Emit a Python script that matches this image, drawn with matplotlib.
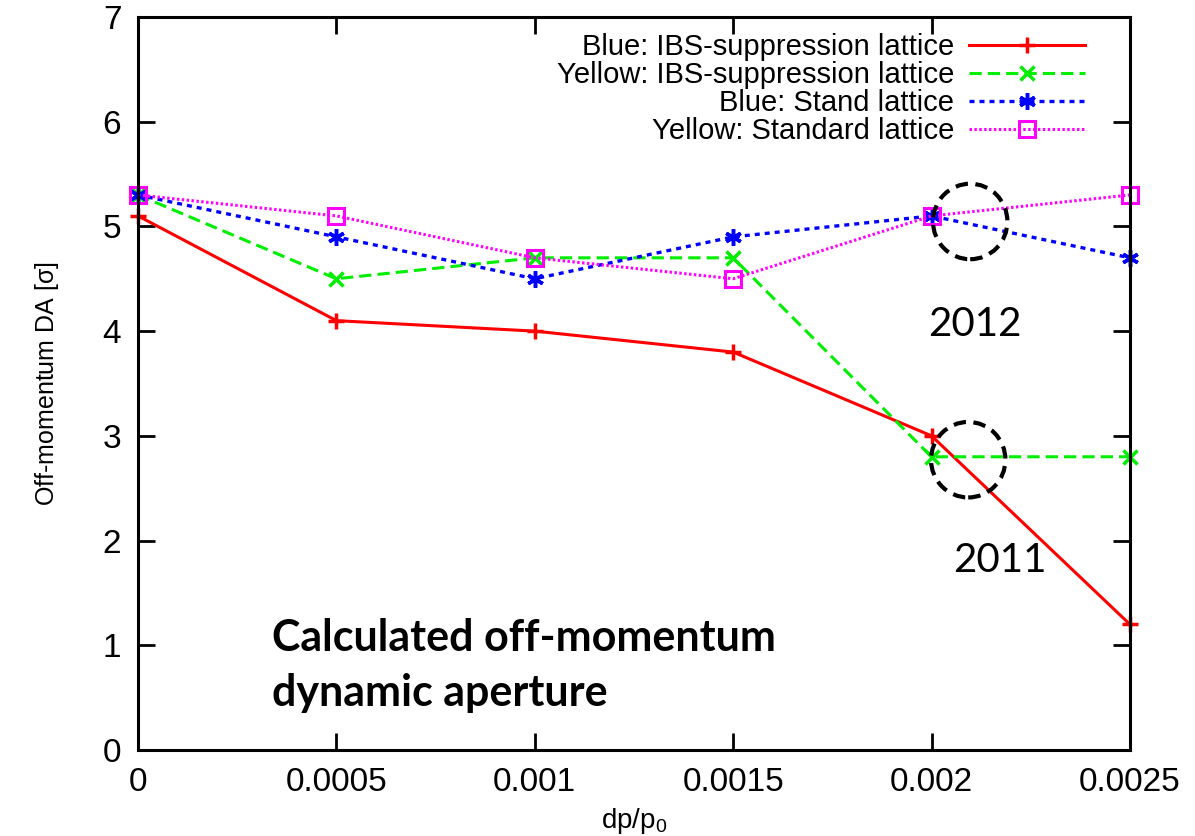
#Off-momentum dynamic aperture vs dp/p0 for the IBS-suppression and standard lattices
import matplotlib
matplotlib.use("Agg")
import matplotlib.pyplot as plt
from matplotlib.patches import Ellipse

plt.rcParams['font.family'] = ['Liberation Sans', 'DejaVu Sans']
plt.rcParams['mathtext.default'] = 'regular'

dpp = [0, 0.0005, 0.001, 0.0015, 0.002, 0.0025]
blue_ibs = [5.1, 4.1, 4.0, 3.8, 3.0, 1.2]
yellow_ibs = [5.3, 4.5, 4.7, 4.7, 2.8, 2.8]
blue_std = [5.3, 4.9, 4.5, 4.9, 5.1, 4.7]
yellow_std = [5.3, 5.1, 4.7, 4.5, 5.1, 5.3]

labels = ["Blue: IBS-suppression lattice", "Yellow: IBS-suppression lattice",
          "Blue: Stand lattice", "Yellow: Standard lattice"]
xticks = [0, 0.0005, 0.001, 0.0015, 0.002, 0.0025]
xticklabels = ["0", "0.0005", "0.001", "0.0015", "0.002", "0.0025"]


fig = plt.figure(figsize=(11.95, 8.36), dpi=100)
ax = fig.add_axes([0.1155, 0.1029, 0.83, 0.8768])

ax.plot(dpp, blue_ibs, color='#ff0000', lw=2.2, ls='-', marker='+', ms=12, mew=2.5,
        label=labels[0], clip_on=False)
ax.plot(dpp, yellow_ibs, color='#00ee00', lw=2.2, ls=(0, (4, 2)), marker='x', ms=10, mew=2.5,
        label=labels[1], clip_on=False)
ax.plot(dpp, blue_std, color='#0000ff', lw=2.4, ls=(0, (1.5, 1.5)), marker=(6, 2, 0), ms=12, mew=2.5,
        label=labels[2], clip_on=False)
ax.plot(dpp, yellow_std, color='#ff00ff', lw=2.2, ls=(0, (0.8, 0.8)), marker='s', ms=11, mew=2.2,
        mfc='none', mec='#ff00ff', label=labels[3], clip_on=False)

ax.set_xlim(0, 0.0025)
ax.set_ylim(0, 7)
ax.set_xticks(xticks)
ax.set_xticklabels(xticklabels)
ax.set_yticks(range(0, 8))
ax.tick_params(direction='in', length=12, width=2, labelsize=24, pad=12,
               top=True, right=True)
for s in ax.spines.values():
    s.set_linewidth(2.2)

ax.set_xlabel(r'dp/p$_0$', fontsize=20, labelpad=6)
ax.set_ylabel(r'Off-momentum DA [$\sigma$]', fontsize=18, labelpad=30)

leg = ax.legend(loc='upper right', bbox_to_anchor=(0.977, 1.008), frameon=False,
                markerfirst=False, fontsize=21, handlelength=4.0, labelspacing=0.0,
                handletextpad=0.5, borderpad=0.25)

ax.text(0.844, 0.58, "2012", transform=ax.transAxes, family='Lato', fontsize=29,
        ha='center', va='center')
ax.text(0.869, 0.259, "2011", transform=ax.transAxes, family='Lato', fontsize=29,
        ha='center', va='center')
ax.text(0.135, 0.18, "Calculated off-momentum\ndynamic aperture", transform=ax.transAxes,
        family='Lato', fontweight='bold', fontsize=31, ha='left', va='top', linespacing=1.45)

for cx, cy in [(0.839, 0.721), (0.837, 0.396)]:
    ax.add_patch(Ellipse((cx, cy), 0.075, 0.103, transform=ax.transAxes, fill=False,
                         ec='black', lw=3, ls=(0, (3, 1.8)), zorder=5))

fig.savefig("out.png", dpi=100)
